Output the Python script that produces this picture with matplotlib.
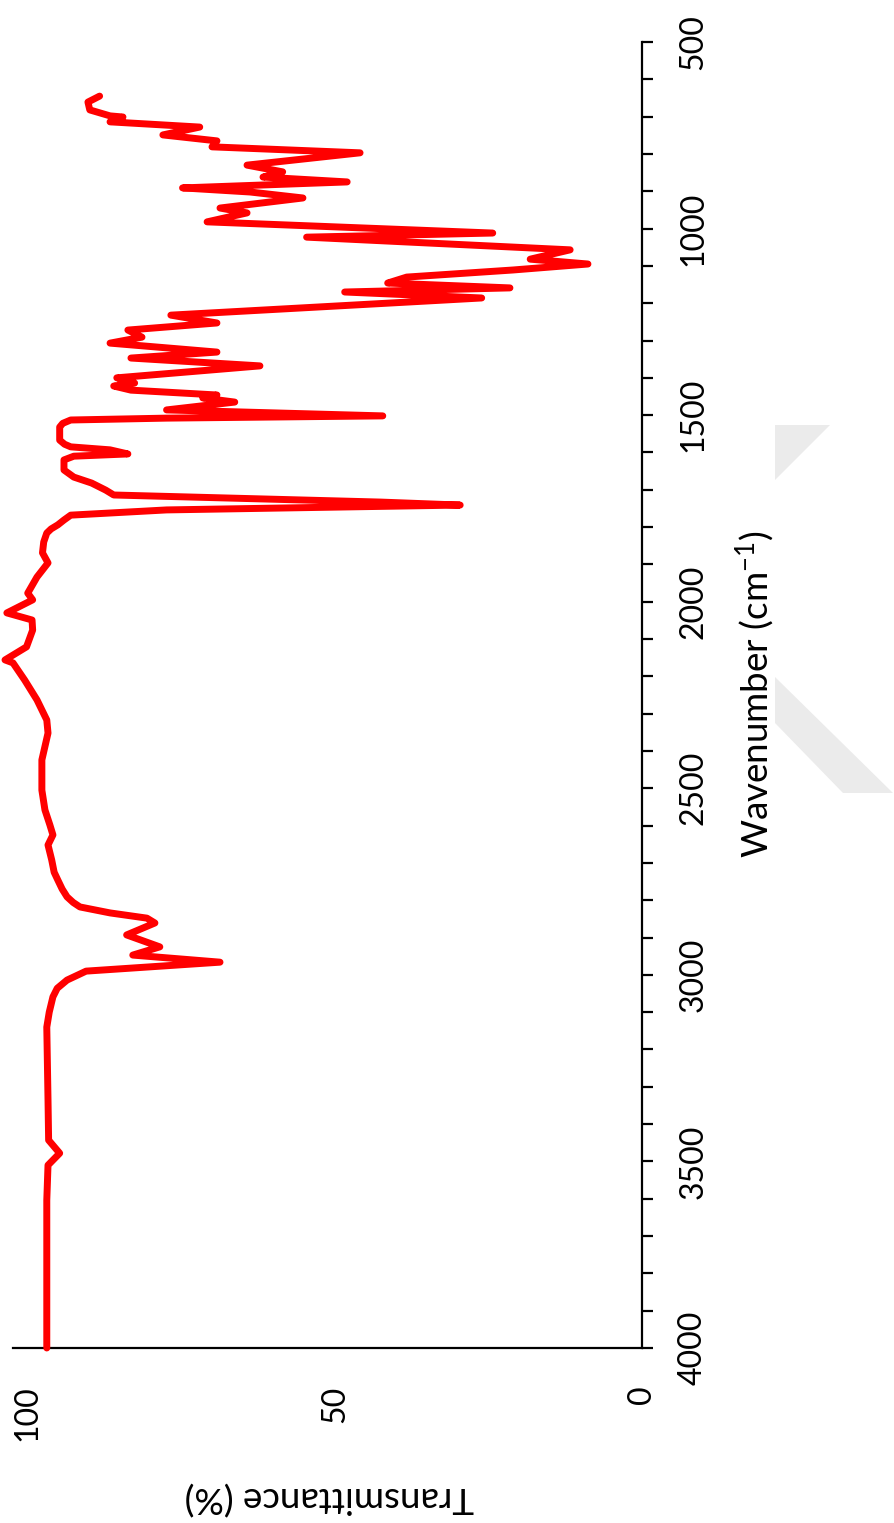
import matplotlib
matplotlib.use("Agg")
import matplotlib.pyplot as plt
from matplotlib.patches import Polygon
from matplotlib.ticker import MultipleLocator

plt.rcParams['font.family'] = ['Lato', 'DejaVu Sans']
plt.rcParams['mathtext.default'] = 'regular'

# FTIR spectrum, wavenumber (cm-1) and transmittance (%)
wavenumber = [645, 661, 682, 698, 701, 714, 728, 749, 765, 781, 797, 830, 848, 862,
              875, 891, 902, 918, 945, 958, 982, 1012, 1023, 1057, 1082, 1095, 1111,
              1130, 1146, 1159, 1170, 1186, 1232, 1253, 1272, 1291, 1307, 1331, 1347,
              1368, 1400, 1414, 1422, 1433, 1446, 1454, 1465, 1486, 1502, 1508, 1513,
              1522, 1532, 1567, 1578, 1585, 1593, 1604, 1610, 1620, 1647, 1666, 1682,
              1701, 1714, 1733, 1741, 1754, 1768, 1781, 1794, 1805, 1816, 1840, 1869,
              1896, 1934, 1977, 1995, 2030, 2049, 2076, 2121, 2156, 2164, 2210, 2263,
              2317, 2352, 2424, 2505, 2558, 2598, 2625, 2652, 2692, 2725, 2746, 2770,
              2791, 2806, 2818, 2834, 2848, 2861, 2893, 2925, 2947, 2966, 2990, 3014,
              3036, 3059, 3100, 3140, 3335, 3443, 3478, 3510, 3604, 4000]
transmittance = [88.3, 90.2, 89.9, 86.6, 84.5, 86.6, 72.0, 78.0, 69.2, 70.0, 45.9, 64.3,
                 58.5, 61.7, 48.0, 74.8, 63.8, 55.2, 68.7, 64.3, 70.8, 24.3, 54.6, 11.7,
                 18.2, 8.8, 21.0, 38.3, 41.4, 21.5, 48.4, 26.1, 76.7, 69.2, 83.7, 81.4,
                 86.6, 69.2, 83.2, 62.2, 85.5, 82.6, 86.0, 83.2, 69.2, 71.5, 66.3, 77.4,
                 42.2, 77.4, 93.0, 94.3, 94.8, 94.8, 94.0, 93.0, 86.6, 83.7, 92.5, 94.1,
                 94.1, 92.5, 89.6, 87.3, 86.0, 42.5, 29.6, 77.4, 93.0, 94.1, 95.1, 96.2,
                 96.9, 97.4, 97.6, 96.7, 98.5, 100.0, 99.2, 103.4, 99.3, 99.2, 100.2,
                 103.7, 102.4, 100.5, 98.5, 96.9, 96.7, 97.7, 97.7, 97.2, 96.4, 95.9,
                 96.7, 96.1, 95.7, 95.1, 94.4, 93.6, 92.6, 91.5, 86.6, 80.6, 79.3, 83.9,
                 78.5, 82.9, 68.7, 90.5, 93.6, 95.2, 95.9, 96.5, 96.9, 96.7, 96.6, 94.8,
                 96.7, 96.9, 96.9]

wn_ticks = [500, 1000, 1500, 2000, 2500, 3000, 3500, 4000]
t_ticks = [0, 50, 100]

W, H = 894, 1523
fig = plt.figure(figsize=(W / 100, H / 100), dpi=100)

# light grey logo shapes behind the plot
logo_color = '#ebebeb'
for pts in ([(775, 425), (830, 425), (775, 480)],
            [(775, 677), (893, 793), (843, 793), (775, 723)]):
    fig.add_artist(Polygon([(x / W, 1 - y / H) for x, y in pts], closed=True,
                           transform=fig.transFigure, facecolor=logo_color,
                           edgecolor='none', zorder=0))

ax = fig.add_axes([13 / W, 1 - 1348 / H, (642 - 13) / W, (1348 - 42) / H])
ax.patch.set_alpha(0)

ax.plot(transmittance, wavenumber, color='#ff0000', lw=5,
        solid_joinstyle='round', solid_capstyle='round', clip_on=False, zorder=3)

ax.set_xlim(102.4, 0)
ax.set_ylim(4000, 500)

for side in ('left', 'top'):
    ax.spines[side].set_visible(False)
for side in ('right', 'bottom'):
    ax.spines[side].set_linewidth(1.6)
    ax.spines[side].set_color('black')

ax.yaxis.set_ticks_position('right')
ax.set_yticks(wn_ticks)
ax.yaxis.set_minor_locator(MultipleLocator(100))
ax.tick_params(axis='y', which='both', direction='out', length=8, width=1.6,
               pad=18, labelsize=23, labelrotation=90)
for lbl in ax.get_yticklabels():
    lbl.set_verticalalignment('center')

ax.set_xticks(t_ticks)
ax.tick_params(axis='x', which='both', length=0, pad=27, labelsize=23,
               labelrotation=90)

fig.text(755 / W, 1 - 694 / H, 'Wavenumber (cm$^{-1}$)', rotation=90,
         ha='center', va='center', fontsize=26.5)
fig.text(329 / W, 1 - 1497 / H, 'Transmittance (%)', rotation=180,
         ha='center', va='center', fontsize=26.5)

fig.savefig('out.png', dpi=100)
